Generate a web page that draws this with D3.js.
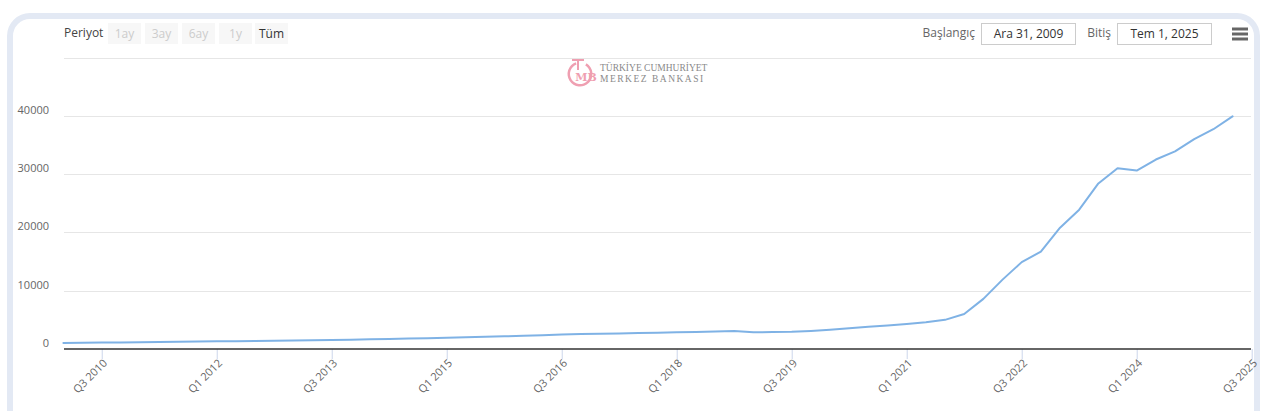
<!DOCTYPE html>
<html>
<head>
<meta charset="utf-8">
<script src="https://cdn.jsdelivr.net/npm/d3@7"></script>
<style>
  html, body { margin: 0; padding: 0; background: #fff; }
  svg { display: block; font-family: "Open Sans", "DejaVu Sans", sans-serif; }
</style>
</head>
<body>
<svg id="chart" width="1270" height="411"></svg>
<script>
const quarters = [
  "Q1 2010","Q2 2010","Q3 2010","Q4 2010","Q1 2011","Q2 2011","Q3 2011","Q4 2011",
  "Q1 2012","Q2 2012","Q3 2012","Q4 2012","Q1 2013","Q2 2013","Q3 2013","Q4 2013",
  "Q1 2014","Q2 2014","Q3 2014","Q4 2014","Q1 2015","Q2 2015","Q3 2015","Q4 2015",
  "Q1 2016","Q2 2016","Q3 2016","Q4 2016","Q1 2017","Q2 2017","Q3 2017","Q4 2017",
  "Q1 2018","Q2 2018","Q3 2018","Q4 2018","Q1 2019","Q2 2019","Q3 2019","Q4 2019",
  "Q1 2020","Q2 2020","Q3 2020","Q4 2020","Q1 2021","Q2 2021","Q3 2021","Q4 2021",
  "Q1 2022","Q2 2022","Q3 2022","Q4 2022","Q1 2023","Q2 2023","Q3 2023","Q4 2023",
  "Q1 2024","Q2 2024","Q3 2024","Q4 2024","Q1 2025","Q2 2025","Q3 2025"
];
const values = [
  1050, 1080, 1100, 1130, 1160, 1200, 1240, 1280,
  1320, 1350, 1380, 1410, 1440, 1480, 1540, 1600,
  1660, 1720, 1790, 1860, 1940, 2020, 2100, 2180,
  2260, 2350, 2480, 2560, 2620, 2680, 2740, 2800,
  2880, 2930, 2990, 3080, 2880, 2900, 2950, 3100,
  3300, 3550, 3800, 4050, 4300, 4600, 5000, 6000,
  8600, 11900, 14900, 16700, 20800, 23900, 28400, 31000,
  30600, 32500, 33900, 36000, 37700, 39900
];
const xTickLabels = ["Q3 2010","Q1 2012","Q3 2013","Q1 2015","Q3 2016","Q1 2018","Q3 2019","Q1 2021","Q3 2022","Q1 2024","Q3 2025"];
const yTicks = [0, 10000, 20000, 30000, 40000];
const yGrid = [0, 10000, 20000, 30000, 40000, 50000];
const periodButtons = ["1ay", "3ay", "6ay", "1y", "Tüm"];
const startLabel = "Başlangıç", startDate = "Ara 31, 2009";
const endLabel = "Bitiş", endDate = "Tem 1, 2025";

const svg = d3.select("#chart");

// outer rounded frame
svg.append("rect")
  .attr("x", 10).attr("y", 16).attr("width", 1247).attr("height", 420)
  .attr("rx", 20).attr("ry", 20)
  .attr("fill", "#fff").attr("stroke", "#e3e9f4").attr("stroke-width", 6);

const x = d3.scalePoint().domain(quarters).range([63.4, 1251.7]);
const y = d3.scaleLinear().domain([0, 50000]).range([349, 57.5]);

// grid lines
svg.append("g").selectAll("line").data(yGrid.filter(d => d > 0)).join("line")
  .attr("x1", 64).attr("x2", 1251)
  .attr("y1", d => Math.round(y(d)) + 0.5).attr("y2", d => Math.round(y(d)) + 0.5)
  .attr("stroke", "#e6e6e6").attr("stroke-width", 1);

// y labels
svg.append("g").selectAll("text").data(yTicks).join("text")
  .attr("x", 49).attr("y", d => y(d) - 2)
  .attr("text-anchor", "end")
  .attr("font-size", 11).attr("fill", "#666")
  .text(d => d);

// x axis
const xAxis = d3.axisBottom(x).tickValues(xTickLabels).tickSize(10).tickSizeOuter(0);
const gx = svg.append("g").attr("transform", "translate(0,349)").call(xAxis);
gx.select(".domain").remove();
gx.selectAll(".tick line").attr("stroke", "#ccd6eb");
gx.selectAll(".tick text")
  .attr("font-family", "Open Sans, sans-serif")
  .attr("font-size", 11).attr("fill", "#666")
  .attr("text-anchor", "end")
  .attr("transform", "translate(3,12) rotate(-45)")
  .attr("x", 0).attr("y", 0).attr("dy", "0.35em");
svg.append("line")
  .attr("x1", 64).attr("x2", 1251).attr("y1", 349).attr("y2", 349)
  .attr("stroke", "#333").attr("stroke-width", 1.5);

// logo emblem (drawn shapes) + text
const emb = svg.append("g").attr("stroke", "#ef9fb1").attr("fill", "none");
emb.append("path")
  .attr("d", d3.arc()({innerRadius: 10, outerRadius: 12.5, startAngle: 0.55, endAngle: 2 * Math.PI - 0.35}))
  .attr("transform", "translate(580,74) rotate(0)")
  .attr("fill", "#ef9fb1").attr("stroke", "none");
emb.append("line").attr("x1", 572).attr("x2", 584).attr("y1", 60).attr("y2", 60).attr("stroke-width", 2);
emb.append("line").attr("x1", 578).attr("x2", 578).attr("y1", 60).attr("y2", 70).attr("stroke-width", 2);
svg.append("text").attr("x", 586).attr("y", 81).attr("font-family", "DejaVu Serif, serif")
  .attr("font-size", 11).attr("font-weight", "bold").attr("text-anchor", "middle").attr("fill", "#ef9fb1").text("MB");
svg.append("text").attr("x", 600).attr("y", 71).attr("font-family", "Liberation Serif, serif")
  .attr("font-size", 9.5).attr("fill", "#8a8a8a").text("TÜRKİYE CUMHURİYET");
svg.append("text").attr("x", 600).attr("y", 82).attr("font-family", "Liberation Serif, serif")
  .attr("font-size", 9.5).attr("letter-spacing", 1.5).attr("fill", "#8a8a8a").text("MERKEZ BANKASI");

// line
const line = d3.line().x((d, i) => x(quarters[i])).y(d => y(d));
svg.append("path").datum(values)
  .attr("d", line)
  .attr("fill", "none").attr("stroke", "#7fb2e5").attr("stroke-width", 2)
  .attr("stroke-linejoin", "round").attr("stroke-linecap", "round");

// range selector
svg.append("text").attr("x", 64).attr("y", 37).attr("font-size", 12).attr("fill", "#444").text("Periyot");
const btnX = [108, 145, 182, 219, 255];
const btn = svg.append("g").selectAll("g").data(periodButtons).join("g")
  .attr("transform", (d, i) => `translate(${btnX[i]},23)`);
btn.append("rect").attr("width", 33).attr("height", 21).attr("fill", "#f7f7f7");
btn.append("text").attr("x", 16.5).attr("y", 14.5).attr("text-anchor", "middle")
  .attr("font-size", 12)
  .attr("fill", d => d === "Tüm" ? "#333" : "#cccccc")
  .text(d => d);

// date inputs
svg.append("text").attr("x", 975).attr("y", 37).attr("text-anchor", "end").attr("font-size", 12).attr("fill", "#666").text(startLabel);
svg.append("rect").attr("x", 981.5).attr("y", 23.5).attr("width", 94).attr("height", 21).attr("fill", "#fff").attr("stroke", "#ccc");
svg.append("text").attr("x", 1028.5).attr("y", 38).attr("text-anchor", "middle").attr("font-size", 12).attr("fill", "#333").text(startDate);
svg.append("text").attr("x", 1111).attr("y", 37).attr("text-anchor", "end").attr("font-size", 12).attr("fill", "#666").text(endLabel);
svg.append("rect").attr("x", 1117.5).attr("y", 23.5).attr("width", 94).attr("height", 21).attr("fill", "#fff").attr("stroke", "#ccc");
svg.append("text").attr("x", 1164.5).attr("y", 38).attr("text-anchor", "middle").attr("font-size", 12).attr("fill", "#333").text(endDate);

// menu icon
svg.append("g").selectAll("line").data([0, 5, 10]).join("line")
  .attr("x1", 1232).attr("x2", 1248)
  .attr("y1", d => 29 + d).attr("y2", d => 29 + d)
  .attr("stroke", "#666").attr("stroke-width", 3);
</script>
</body>
</html>
